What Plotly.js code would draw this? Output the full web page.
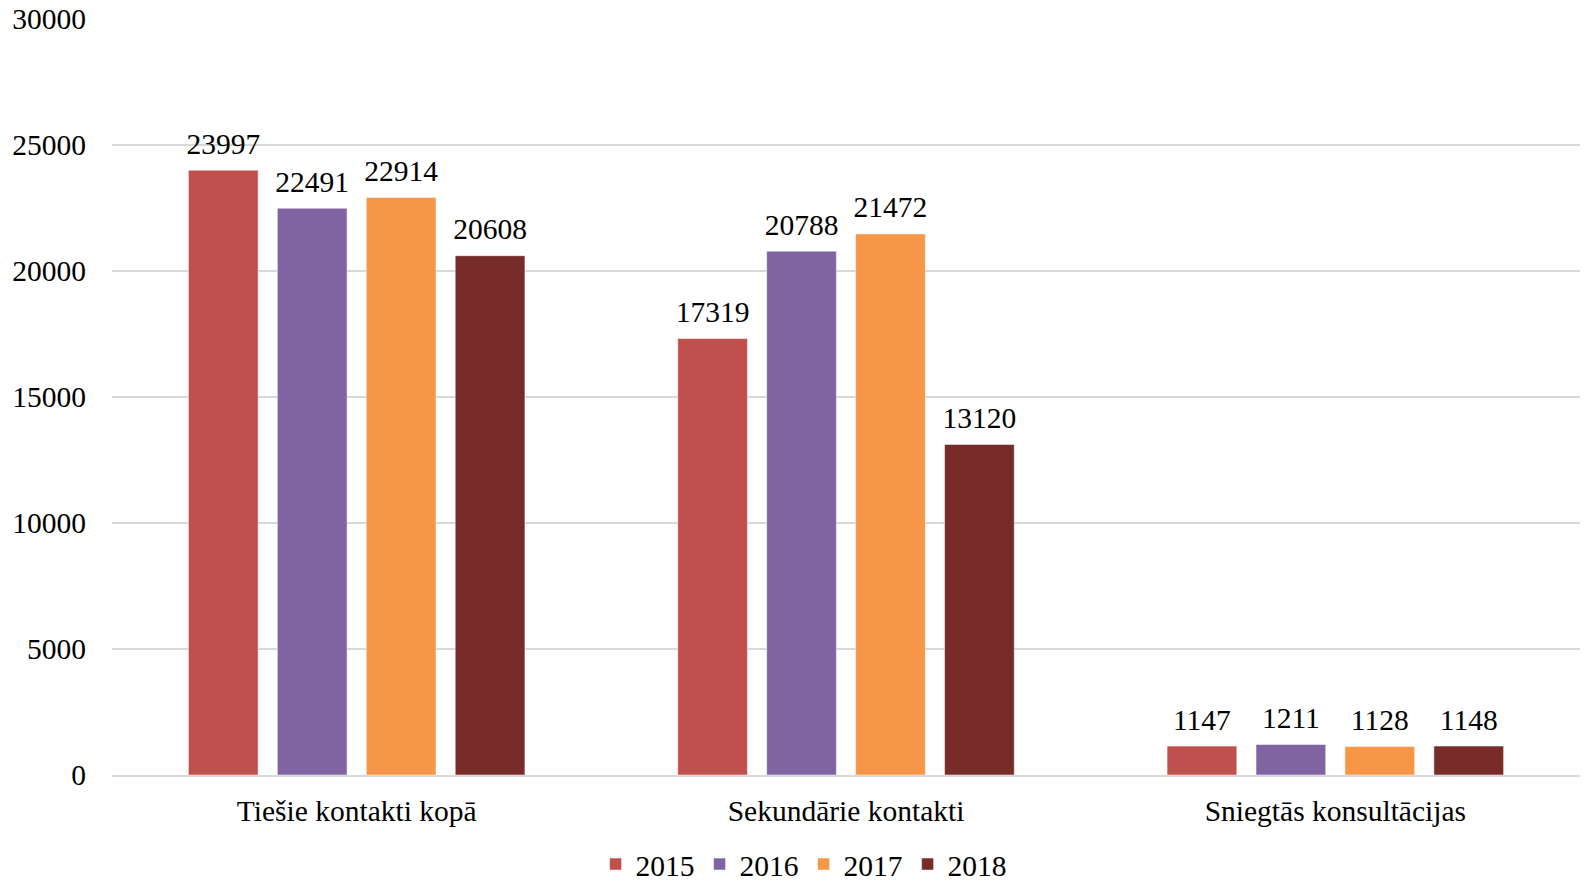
<!DOCTYPE html>
<html>
<head>
<meta charset="utf-8">
<script src="https://cdn.plot.ly/plotly-3.0.1.min.js"></script>
<style>html,body{margin:0;padding:0;background:#fff;}#chart{width:1585px;height:882px;}</style>
</head>
<body>
<div id="chart"></div>
<script>
const categories = ["Tiešie kontakti kopā", "Sekundārie kontakti", "Sniegtās konsultācijas"];
const years = ["2015", "2016", "2017", "2018"];
const values2015 = [23997, 17319, 1147];
const values2016 = [22491, 20788, 1211];
const values2017 = [22914, 21472, 1128];
const values2018 = [20608, 13120, 1148];
const colors = ["#C0504D", "#8064A2", "#F79646", "#772C2A"];
const yTicks = [0, 5000, 10000, 15000, 20000, 25000, 30000];

const series = [values2015, values2016, values2017, values2018];
const font = "Liberation Serif, Times New Roman, serif";
const fs = 29.5;

const barTraces = series.map((vals, i) => ({
  type: "bar",
  name: years[i],
  x: categories,
  y: vals,
  offsetgroup: years[i],
  marker: {color: colors[i], line: {color: "rgba(255,255,255,0.5)", width: 1}},
  hoverinfo: "x+y+name"
}));

const labelTraces = series.map((vals, i) => ({
  type: "scatter",
  mode: "markers+text",
  name: years[i] + " labels",
  showlegend: false,
  x: categories,
  y: vals,
  offsetgroup: years[i],
  marker: {size: 13, color: "rgba(0,0,0,0)"},
  text: vals.map(String),
  textposition: "top center",
  textfont: {family: font, size: fs, color: "#000"},
  cliponaxis: false,
  hoverinfo: "skip"
}));

const layout = {
  width: 1585,
  height: 882,
  margin: {l: 112, r: 5, t: 19, b: 107, autoexpand: false},
  paper_bgcolor: "#fff",
  plot_bgcolor: "#fff",
  barmode: "group",
  bargap: 0.273,
  bargroupgap: 0.216,
  scattermode: "group",
  scattergap: 0.273,
  font: {family: font, size: fs, color: "#000"},
  xaxis: {
    type: "category",
    showgrid: false,
    showline: true,
    linecolor: "#D9D9D9",
    linewidth: 2,
    ticks: "",
    ticklabelstandoff: 9,
    tickfont: {family: font, size: fs, color: "#000"}
  },
  yaxis: {
    range: [0, 30000],
    tickvals: yTicks,
    ticktext: yTicks.map(String),
    showgrid: true,
    gridcolor: "#D9D9D9",
    gridwidth: 2,
    zeroline: false,
    showline: false,
    ticks: "",
    ticklabelstandoff: 25,
    tickfont: {family: font, size: fs, color: "#000"}
  },
  showlegend: true,
  legend: {
    orientation: "h",
    xref: "container",
    yref: "container",
    x: 0.507,
    xanchor: "center",
    y: 0.02,
    yanchor: "middle",
    font: {family: font, size: fs, color: "#000"},
    itemclick: false,
    traceorder: "normal"
  }
};

Plotly.newPlot("chart", barTraces.concat(labelTraces), layout, {displayModeBar: false, staticPlot: true});
</script>
</body>
</html>
